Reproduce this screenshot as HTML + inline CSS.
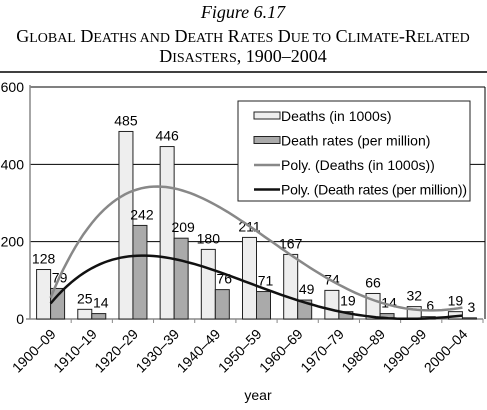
<!DOCTYPE html>
<html><head><meta charset="utf-8"><style>
body{margin:0;background:#fff;width:487px;height:410px;overflow:hidden}
svg{display:block}
</style></head><body>
<svg id="c" width="487" height="410" font-family="Liberation Sans, sans-serif">
<text x="243" y="18" text-anchor="middle" font-family="Liberation Serif, serif" font-style="italic" font-size="18">Figure 6.17</text>
<text x="243" y="42" text-anchor="middle" font-family="Liberation Serif, serif" font-size="18">G<tspan font-size="14">LOBAL</tspan> D<tspan font-size="14">EATHS AND</tspan> D<tspan font-size="14">EATH</tspan> R<tspan font-size="14">ATES</tspan> D<tspan font-size="14">UE TO</tspan> C<tspan font-size="14">LIMATE</tspan>-R<tspan font-size="14">ELATED</tspan></text>
<text x="243" y="62" text-anchor="middle" font-family="Liberation Serif, serif" font-size="18">D<tspan font-size="14">ISASTERS</tspan>, 1900–2004</text>
<line x1="0" y1="72" x2="487" y2="72" stroke="#000" stroke-width="1.5"/>
<g id="plot"></g>
</svg>
<script>
const categories=["1900–09","1910–19","1920–29","1930–39","1940–49","1950–59","1960–69","1970–79","1980–89","1990–99","2000–04"];
const deaths=[128,25,485,446,180,211,167,74,66,32,19];
const rates=[79,14,242,209,76,71,49,19,14,6,3];
const yTicks=[0,200,400,600];
const NS="http://www.w3.org/2000/svg";
const g=document.getElementById('plot');
const X0=30,X1=483,Y0=319,Y1=87,YMAX=600;
const step=(X1-X0)/categories.length;
const y=v=>Y0-(v/YMAX)*(Y0-Y1);
const cx=i=>X0+step*(i+0.5);
function el(t,a){const e=document.createElementNS(NS,t);for(const k in a)e.setAttribute(k,a[k]);g.appendChild(e);return e;}
yTicks.forEach(v=>{
 if(v>0){const l=el('line',{x1:X0,x2:X1+2,y1:y(v),y2:y(v),stroke:'#000','stroke-width':1});
 
 }
 const t=el('text',{x:X0-6,y:y(v)+5,'text-anchor':'end','font-size':14});t.textContent=v;
 
 
});
const ax=el('line',{x1:X0,x2:X0,y1:Y1-2,y2:Y0,stroke:'#888','stroke-width':1.5});


const rb=el('line',{x1:X1+2,x2:X1+2,y1:Y1,y2:Y0,stroke:'#000','stroke-width':1});


const xa=el('line',{x1:X0-4,x2:X1,y1:Y0,y2:Y0,stroke:'#888','stroke-width':1.5});


const bw=14;
categories.forEach((c,i)=>{
 const tk=el('line',{x1:X0+step*(i+1),x2:X0+step*(i+1),y1:Y0,y2:Y0+4,stroke:'#888'});
 
 
 const b1=el('rect',{x:cx(i)-bw,y:y(deaths[i]),width:bw,height:Y0-y(deaths[i]),fill:'#eeeeee',stroke:'#222','stroke-width':1});
 
 
 const b2=el('rect',{x:cx(i),y:y(rates[i]),width:bw,height:Y0-y(rates[i]),fill:'#aaaaaa',stroke:'#222','stroke-width':1});
 
 
 const t1=el('text',{x:cx(i)-bw/2,y:y(deaths[i])-6,'text-anchor':'middle','font-size':14});t1.textContent=deaths[i];
 
 
 const t2=el('text',{x:cx(i)+bw/2+2,y:y(rates[i])-6,'text-anchor':'middle','font-size':14});t2.textContent=rates[i];
 
 
 const xl=el('text',{x:0,y:0,'text-anchor':'end','font-size':14,transform:`translate(${cx(i)+6},${Y0+16}) rotate(-45)`});xl.textContent=c;
 
 
});
function polyfit(ys,deg){
 const n=ys.length,m=deg+1,A=[],b=[];
 for(let r=0;r<m;r++){A.push([]);for(let c=0;c<m;c++){let s=0;for(let i=0;i<n;i++)s+=Math.pow(i+1,r+c);A[r].push(s);}let s=0;for(let i=0;i<n;i++)s+=ys[i]*Math.pow(i+1,r);b.push(s);}
 for(let k=0;k<m;k++){let p=k;for(let r=k+1;r<m;r++)if(Math.abs(A[r][k])>Math.abs(A[p][k]))p=r;[A[k],A[p]]=[A[p],A[k]];[b[k],b[p]]=[b[p],b[k]];
  for(let r=k+1;r<m;r++){const f=A[r][k]/A[k][k];for(let c=k;c<m;c++)A[r][c]-=f*A[k][c];b[r]-=f*b[k];}}
 const x=new Array(m).fill(0);for(let k=m-1;k>=0;k--){let s=b[k];for(let c=k+1;c<m;c++)s-=A[k][c]*x[c];x[k]=s/A[k][k];}
 return t=>x.reduce((a,co,j)=>a+co*Math.pow(t,j),0);
}
function trend(ys,color,name){
 const f=polyfit(ys,4);let d='';
 for(let s=0;s<=100;s++){const t=1+s*(ys.length-1)/100;const v=Math.max(0,f(t));d+=(s?'L':'M')+(cx(t-1)).toFixed(1)+','+y(v).toFixed(1);}
 const p=el('path',{d,fill:'none',stroke:color,'stroke-width':2.5});
 
 
}
trend(deaths,'#888','trend-deaths');
trend(rates,'#111','trend-rates');
const lg=el('rect',{x:238,y:101,width:232,height:100,fill:'#fff',stroke:'#222'});


const items=[['rect','#eeeeee','Deaths (in 1000s)'],['rect','#aaaaaa','Death rates (per million)'],['line','#888','Poly. (Deaths (in 1000s))'],['line','#111','Poly. (Death rates (per million))']];
items.forEach((it,k)=>{
 const yy=116+k*24.5;
 if(it[0]=='rect'){const r=el('rect',{x:254,y:yy-4,width:26,height:7,fill:it[1],stroke:'#222'});
  
  }
 else{const l=el('line',{x1:254,x2:280,y1:yy,y2:yy,stroke:it[1],'stroke-width':2.5});
  
  }
 const t=el('text',{x:281,y:yy+5,'font-size':14,textLength:it[2].length>26?186:null});t.textContent=it[2];
 
 
});
const xt=el('text',{x:258,y:400,'text-anchor':'middle','font-size':14});xt.textContent='year';


</script>
</body></html>
